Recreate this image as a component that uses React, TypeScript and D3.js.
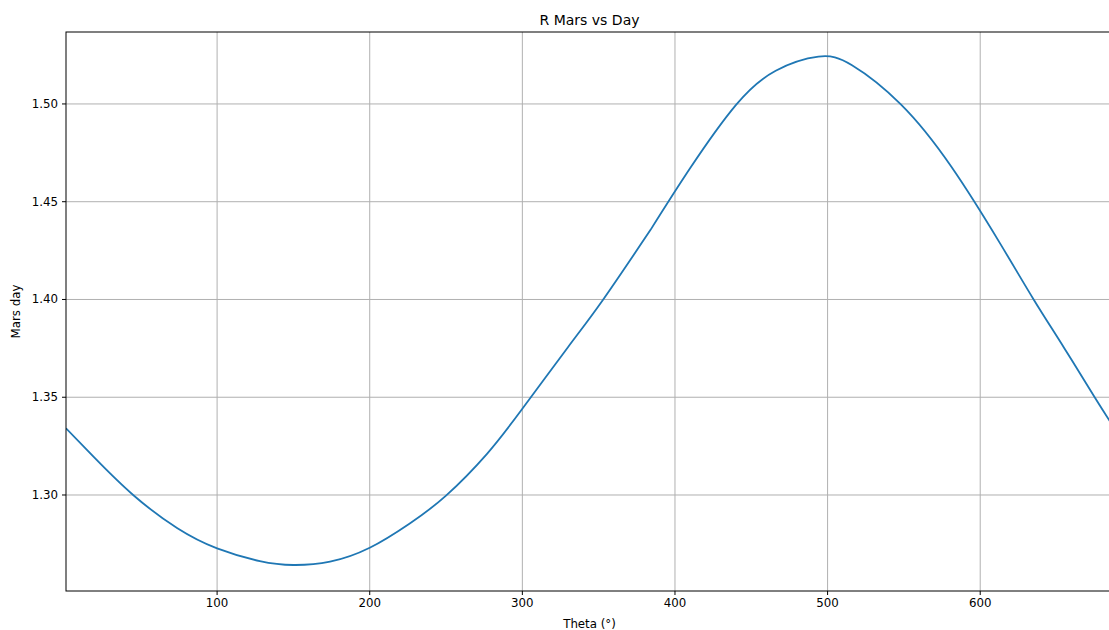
import React from "react";
import * as d3 from "d3";

// Day of the Martian year and the corresponding R value
const days = [
  1, 19, 45, 74, 100, 128, 150, 174, 200, 226, 250, 277, 300, 330, 353, 384,
  410, 440, 466, 494, 516, 548, 581, 613, 635, 655, 675, 687,
];
const rValues = [
  1.3341, 1.3196, 1.3, 1.283, 1.2727, 1.2662, 1.2642, 1.2659, 1.273, 1.2853,
  1.2997, 1.3212, 1.3441, 1.3757, 1.4, 1.4356, 1.4672, 1.4995, 1.517, 1.5242,
  1.5198, 1.4998, 1.468, 1.4287, 1.4, 1.3752, 1.35, 1.3353,
];
// the curve changes slope abruptly at this day
const breakDay = 384;
const xTicks = [100, 200, 300, 400, 500, 600];
const yTicks = [1.3, 1.35, 1.4, 1.45, 1.5];

const W = 1109;
const H = 630;
const M = { left: 66, right: 1113, top: 32, bottom: 591 };
const FONT = "DejaVu Sans, sans-serif";

export default function App() {
  const x = d3.scaleLinear().domain([1, 687]).range([M.left, M.right]);
  const y = d3.scaleLinear().domain([1.2509, 1.5368]).range([M.bottom, M.top]);
  const pts = days.map((d, i) => [d, rValues[i]] as [number, number]);
  const before = pts.filter((p) => p[0] <= breakDay);
  const after = pts.filter((p) => p[0] >= breakDay);
  const line = d3
    .line<[number, number]>()
    .x((d) => x(d[0]))
    .y((d) => y(d[1]))
    .curve(d3.curveNatural);
  const pathD = (line(before) || "") + (line(after) || "").replace(/^M/, "L");

  return (
    <div
      style={{
        position: "fixed",
        left: 0,
        top: 0,
        width: W,
        height: H,
        overflow: "hidden",
        background: "#fff",
      }}
    >
      <svg width={W} height={H} style={{ display: "block" }}>
        <rect width={W} height={H} fill="#fff" />
        <defs>
          <clipPath id="plot">
            <rect x={M.left} y={M.top} width={M.right - M.left} height={M.bottom - M.top} />
          </clipPath>
        </defs>
        {/* grid */}
        {xTicks.map((t) => (
          <line key={"gx" + t} x1={x(t)} x2={x(t)} y1={M.top} y2={M.bottom} stroke="#b0b0b0" strokeWidth={1} />
        ))}
        {yTicks.map((t) => (
          <line key={"gy" + t} x1={M.left} x2={M.right} y1={y(t)} y2={y(t)} stroke="#b0b0b0" strokeWidth={1} />
        ))}
        {/* data line */}
        <path
          d={pathD}
          fill="none"
          stroke="#1f77b4"
          strokeWidth={1.8}
          strokeLinejoin="round"
          clipPath="url(#plot)"
        />
        {/* spines */}
        <rect
          x={M.left}
          y={M.top}
          width={M.right - M.left}
          height={M.bottom - M.top}
          fill="none"
          stroke="#000"
          strokeWidth={1}
        />
        {/* x ticks */}
        {xTicks.map((t) => (
          <g key={"tx" + t}>
            <line x1={x(t)} x2={x(t)} y1={M.bottom} y2={M.bottom + 4} stroke="#000" />
            <text x={x(t)} y={M.bottom + 16} fontSize={11.8} fontFamily={FONT} textAnchor="middle" fill="#000">
              {t}
            </text>
          </g>
        ))}
        {/* y ticks */}
        {yTicks.map((t) => (
          <g key={"ty" + t}>
            <line x1={M.left - 4} x2={M.left} y1={y(t)} y2={y(t)} stroke="#000" />
            <text
              x={M.left - 8}
              y={y(t)}
              fontSize={11.8}
              fontFamily={FONT}
              textAnchor="end"
              dominantBaseline="central"
              fill="#000"
            >
              {t.toFixed(2)}
            </text>
          </g>
        ))}
        <text x={(M.left + M.right) / 2} y={25} fontSize={14} fontFamily={FONT} textAnchor="middle" fill="#000">
          R Mars vs Day
        </text>
        <text x={(M.left + M.right) / 2} y={628} fontSize={11.8} fontFamily={FONT} textAnchor="middle" fill="#000">
          Theta (°)
        </text>
        <text
          transform={`translate(20, ${(M.top + M.bottom) / 2}) rotate(-90)`}
          fontSize={11.8}
          fontFamily={FONT}
          textAnchor="middle"
          fill="#000"
        >
          Mars day
        </text>
      </svg>
    </div>
  );
}
